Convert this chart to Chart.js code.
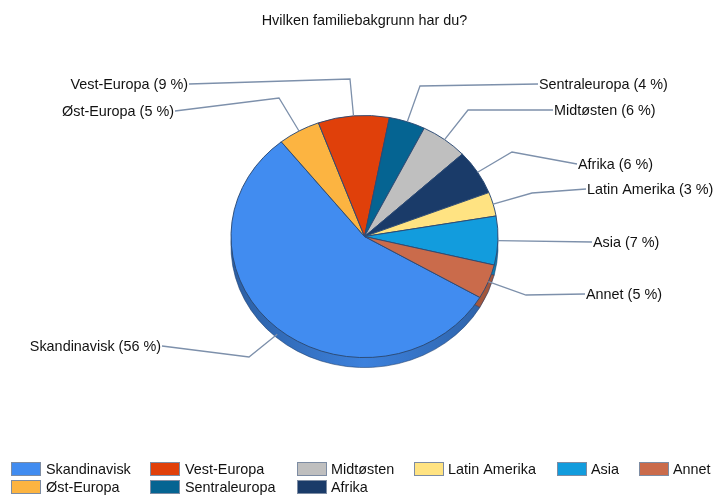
<!DOCTYPE html>
<html>
<head>
<meta charset="utf-8">
<style>html,body{margin:0;padding:0;background:#fff}canvas{display:block}</style>
<script src="https://cdn.jsdelivr.net/npm/chart.js@4"></script>
</head>
<body>
<canvas id="c" width="713" height="496"></canvas>
<script>
const titleText = 'Hvilken familiebakgrunn har du?';
const categories = ['Skandinavisk','Øst-Europa','Vest-Europa','Sentraleuropa','Midtøsten','Afrika','Latin Amerika','Asia','Annet'];
const shares = [55.9,5.1,8.6,4.4,5.7,6.0,3.2,6.5,4.6];
const colors = ['#418CF0','#FCB441','#E0400A','#056492','#BFBFBF','#1A3B69','#FFE382','#129CDD','#CA6B4B'];
const rotationDeg = 120.2;
const FONT = '14.4px "Liberation Sans", Arial, sans-serif';
const TILT = 0.907, DEPTH = 10;

// callout layout: [elbow x, elbow y, label-side x, label y, text align]
const callouts = [
  [249,357,161,346,'right'],
  [279,98,174,111,'right'],
  [350,79,188,84,'right'],
  [420,86,539,84,'left'],
  [468,110,554,110,'left'],
  [512,152,578,164,'left'],
  [532,193,587,189,'left'],
  [null,null,593,242,'left'],
  [526,295,586,294,'left']
];
// legend cells, filled column by column: [swatch x, text x, row]
const legendCells = [
  [11,46,0],[11,46,1],[150,185,0],[150,185,1],[297,331,0],[297,331,1],[414,448,0],[557,591,0],[639,673,0]
];
const legendRows = [469,487];

function shade(hex,f){
  const n=parseInt(hex.slice(1),16);
  return `rgb(${Math.round((n>>16&255)*f)},${Math.round((n>>8&255)*f)},${Math.round((n&255)*f)})`;
}
const pie3d = {
  id:'pie3d',
  beforeDatasetsDraw(chart){
    const {ctx}=chart, arcs=chart.getDatasetMeta(0).data;
    const a0=arcs[0], cx=a0.x, cy=a0.y, r=a0.outerRadius;
    ctx.save();
    arcs.forEach((a,i)=>{
      ctx.beginPath();
      ctx.moveTo(cx,cy+DEPTH);
      ctx.ellipse(cx,cy+DEPTH,r,r*TILT,0,a.startAngle,a.endAngle);
      ctx.closePath();
      let fill=shade(colors[i],0.8);
      if(i===0){
        const g=ctx.createLinearGradient(cx-r,0,cx+r,0);
        g.addColorStop(0,shade(colors[i],0.68));
        g.addColorStop(0.5,shade(colors[i],0.92));
        g.addColorStop(1,shade(colors[i],0.68));
        fill=g;
      }
      ctx.fillStyle=fill;ctx.fill();
      ctx.strokeStyle='rgba(26,59,105,0.55)';ctx.lineWidth=1;ctx.stroke();
    });
    ctx.restore();
    ctx.save();
    ctx.translate(cx,cy);ctx.scale(1,TILT);ctx.translate(-cx,-cy);
  },
  afterDatasetsDraw(chart){
    const {ctx}=chart;
    ctx.restore();
    const arcs=chart.getDatasetMeta(0).data;
    const a0=arcs[0], cx=a0.x, cy=a0.y, r=a0.outerRadius;

    ctx.save();
    // callouts
    ctx.textBaseline='middle';ctx.font=FONT;
    arcs.forEach((a,i)=>{
      const mid=(a.startAngle+a.endAngle)/2;
      let ax=cx+Math.cos(mid)*r, ay=cy+Math.sin(mid)*r*TILT;
      const [ex,ey,lx,ly,al]=callouts[i];
      if(i===0){ay+=DEPTH*0.6;}
      ctx.beginPath();ctx.moveTo(ax,ay);
      if(ex!==null)ctx.lineTo(ex,ey);
      ctx.lineTo(lx+(al==='left'?-1:1),ly);
      ctx.strokeStyle='#7d90ab';ctx.lineWidth=1.3;ctx.stroke();
      ctx.fillStyle='#111';ctx.textAlign=al;
      ctx.fillText(`${categories[i]} (${Math.round(shares[i])} %)`,lx,ly+1);
    });
    // title
    ctx.textAlign='center';ctx.fillStyle='#111';
    ctx.fillText(titleText,364.5,21);
    // legend
    ctx.textAlign='left';
    categories.forEach((name,i)=>{
      const [sx,tx,row]=legendCells[i], y=legendRows[row];
      ctx.fillStyle=colors[i];ctx.fillRect(sx+.5,y-6.5,29,13);
      ctx.strokeStyle='#7d8ca3';ctx.lineWidth=1;ctx.strokeRect(sx+.5,y-6.5,29,13);
      ctx.fillStyle='#111';ctx.fillText(name,tx,y+1);
    });
    ctx.restore();
  }
};
new Chart(document.getElementById('c'),{
  type:'pie',
  data:{labels:categories,datasets:[{data:shares,backgroundColor:colors,borderColor:'#2c4a75',borderWidth:1}]},
  options:{
    responsive:false,animation:false,rotation:rotationDeg,
    layout:{padding:{left:230.5,right:214.5,top:102.5,bottom:125.5}},
    plugins:{legend:{display:false},tooltip:{enabled:false},title:{display:false}}
  },
  plugins:[pie3d]
});
</script>
</body>
</html>
